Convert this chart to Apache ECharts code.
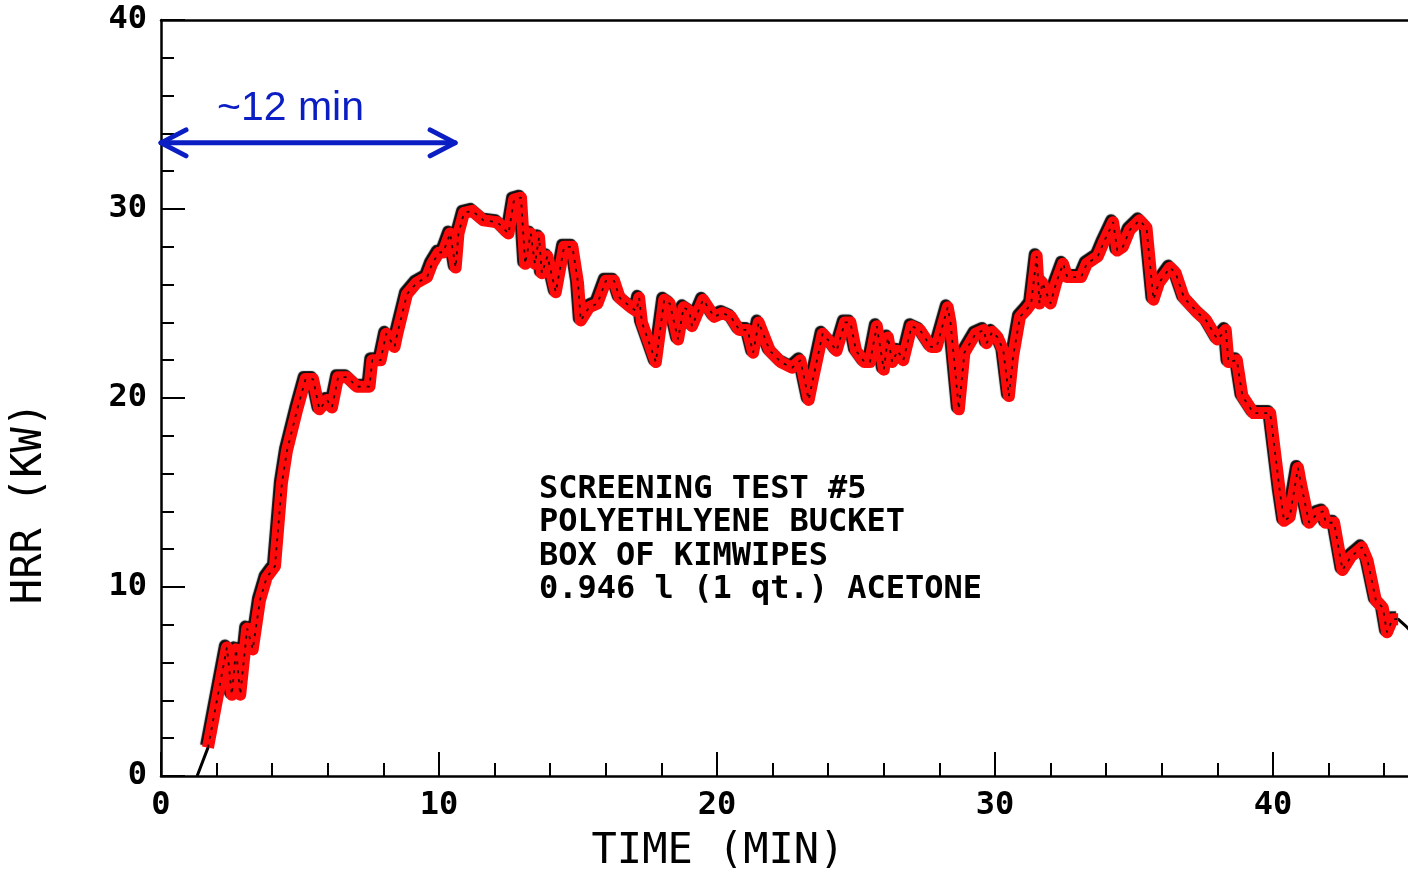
<!DOCTYPE html>
<html>
<head>
<meta charset="utf-8">
<title>HRR vs time</title>
<script src="https://cdn.jsdelivr.net/npm/echarts@6/dist/echarts.min.js"></script>
<style>
  html, body { margin: 0; padding: 0; background: #fff; }
  #chart { width: 1408px; height: 869px; }
</style>
</head>
<body>
<div id="chart"></div>
<script>
// Heat release rate trace, screening test #5
const minutes = [1.3, 1.69, 2.37, 2.55, 2.7, 2.85, 3.1, 3.3, 3.56, 3.8, 4.1, 4.35, 4.53, 4.9, 5.2, 5.47, 5.7, 5.97, 6.15, 6.37,
  6.7, 7.05, 7.5, 7.6, 7.9, 8.1, 8.4, 8.5, 8.85, 9.2, 9.57, 9.75, 10.0, 10.15, 10.4, 10.6, 10.7, 10.9, 11.2, 11.6,
  12.1, 12.5, 12.7, 12.95, 13.1, 13.3, 13.45, 13.6, 13.7, 13.9, 14.2, 14.5, 14.8, 15.0, 15.1, 15.4, 15.7, 16.0, 16.3, 16.5,
  16.9, 17.1, 17.2, 17.3, 17.8, 18.1, 18.3, 18.6, 18.8, 19.0, 19.1, 19.5, 19.9, 20.2, 20.5, 20.8, 21.1, 21.3, 21.5, 21.9,
  22.3, 22.7, 23.0, 23.3, 23.45, 23.8, 24.1, 24.3, 24.6, 24.8, 25.0, 25.3, 25.5, 25.75, 26.0, 26.15, 26.3, 26.5, 26.7, 27.0,
  27.3, 27.7, 27.9, 28.3, 28.4, 28.7, 28.9, 29.3, 29.6, 29.7, 29.9, 30.1, 30.3, 30.5, 30.65, 30.9, 31.15, 31.3, 31.5, 31.6,
  31.7, 32.0, 32.2, 32.45, 32.6, 33.1, 33.3, 33.7, 33.9, 34.25, 34.4, 34.6, 34.85, 35.2, 35.45, 35.7, 35.9, 36.3, 36.5, 36.8,
  37.3, 37.6, 38.0, 38.3, 38.4, 38.7, 38.9, 39.3, 39.9, 40.25, 40.4, 40.6, 40.9, 41.0, 41.3, 41.6, 41.8, 41.9, 42.2, 42.5,
  42.8, 43.2, 43.4, 43.7, 43.95, 44.1, 44.3, 44.5, 44.8, 45.2];
const hrrKW = [0, 1.5, 6.8, 4.3, 6.7, 4.3, 7.8, 6.7, 9.3, 10.5, 11.1, 15.5, 17.2, 19.4, 21.0, 21.0, 19.4, 19.9, 19.5, 21.1,
  21.1, 20.6, 20.6, 22.0, 22.0, 23.4, 22.7, 23.4, 25.5, 26.1, 26.4, 27.1, 27.7, 27.7, 28.7, 26.9, 28.7, 29.8, 29.9, 29.4,
  29.3, 28.7, 30.5, 30.6, 27.1, 28.7, 27.1, 28.5, 26.6, 27.5, 25.6, 28.0, 28.0, 26.1, 24.1, 24.8, 25.0, 26.2, 26.2, 25.3,
  24.8, 24.6, 25.3, 24.0, 21.9, 25.2, 25.0, 23.1, 24.8, 24.6, 23.8, 25.2, 24.3, 24.5, 24.3, 23.6, 23.6, 22.4, 24.0, 22.5,
  21.9, 21.6, 22.0, 19.9, 21.0, 23.4, 22.9, 22.5, 24.0, 24.0, 22.5, 21.9, 21.9, 23.8, 21.5, 23.2, 21.9, 22.5, 22.0, 23.8,
  23.6, 22.7, 22.7, 24.8, 24.0, 19.4, 22.4, 23.4, 23.6, 22.9, 23.5, 23.2, 22.5, 20.1, 22.2, 24.3, 24.7, 25.0, 27.5, 25.0,
  26.1, 25.0, 26.1, 27.1, 26.4, 26.4, 27.1, 27.5, 28.2, 29.3, 27.8, 28.0, 28.9, 29.4, 29.0, 25.2, 26.1, 26.9, 26.6, 25.3,
  24.5, 24.1, 23.1, 23.6, 21.9, 22.0, 20.1, 19.2, 19.2, 15.0, 13.5, 13.7, 16.3, 15.5, 13.4, 13.9, 14.0, 13.4, 13.4, 10.9,
  11.6, 12.1, 11.4, 9.3, 8.9, 7.6, 8.3, 8.3, 7.9, 7.3];

// Axis ranges and tick labels
const timeRange = [0, 50];
const hrrRange = [0, 40];
const majorStep = 10;

// Annotation content
const spanArrow = [0, 10.58, 33.5];   // start min, end min, level kW
const spanLabel = '~12 min';
const testNotes = ['SCREENING TEST #5', 'POLYETHLYENE BUCKET', 'BOX OF KIMWIPES', '0.946 l (1 qt.) ACETONE'];
const xTitle = 'TIME (MIN)';
const yTitle = 'HRR (KW)';

const trace = minutes.map((t, i) => [t, hrrKW[i]]);
const band = trace.slice(1, -2);

const mono = '"DejaVu Sans Mono", "Liberation Mono", monospace';
const blue = '#0b1ec4';
const axisLineStyle = { color: '#000', width: 2.5 };

const chart = echarts.init(document.getElementById('chart'), null, { renderer: 'canvas' });

const option = {
  backgroundColor: '#fff',
  animation: false,
  grid: { left: 161, top: 20, height: 756, width: 1390, containLabel: false, outerBoundsMode: 'none' },
  xAxis: [
    {
      type: 'value', min: timeRange[0], max: timeRange[1], interval: majorStep, position: 'bottom',
      axisLine: { show: true, onZero: false, lineStyle: axisLineStyle },
      axisTick: { show: true, inside: true, length: 24, lineStyle: { color: '#000', width: 2 } },
      minorTick: { show: true, splitNumber: 5, length: 13, lineStyle: { color: '#000', width: 2 } },
      axisLabel: { fontFamily: mono, fontSize: 32, fontWeight: 'bold', color: '#000', margin: 14 },
      splitLine: { show: false }
    },
    {
      type: 'value', min: timeRange[0], max: timeRange[1], interval: majorStep, position: 'top',
      axisLine: { show: true, onZero: false, lineStyle: axisLineStyle },
      axisTick: { show: false }, axisLabel: { show: false }, splitLine: { show: false }
    }
  ],
  yAxis: {
    type: 'value', min: hrrRange[0], max: hrrRange[1], interval: majorStep,
    axisLine: { show: true, onZero: false, lineStyle: axisLineStyle },
    axisTick: { show: true, inside: true, length: 24, lineStyle: { color: '#000', width: 2 } },
    minorTick: { show: true, splitNumber: 5, length: 13, lineStyle: { color: '#000', width: 2 } },
    axisLabel: { fontFamily: mono, fontSize: 32, fontWeight: 'bold', color: '#000', margin: 14 },
    splitLine: { show: false }
  },
  series: [
    {
      // original plotted trace
      type: 'line', data: trace, symbol: 'none', z: 2,
      lineStyle: { color: '#000', width: 3 }
    },
    {
      // red highlight over the trace
      type: 'line', data: band, symbol: 'none', z: 3,
      lineStyle: {
        color: '#ff0a0a', width: 12, join: 'round',
        shadowColor: 'rgba(0,0,0,0.95)', shadowBlur: 1, shadowOffsetX: -2, shadowOffsetY: -2
      }
    },
    {
      // trace showing through the highlight
      type: 'line', data: band, symbol: 'none', z: 4,
      lineStyle: { color: '#000', width: 1.8, type: [3, 6], opacity: 0.85 }
    },
    {
      // double-headed span arrow
      type: 'custom', z: 6, clip: false,
      data: [spanArrow],
      renderItem: function (params, api) {
        const a = api.coord([api.value(0), api.value(2)]);
        const b = api.coord([api.value(1), api.value(2)]);
        const hx = 25, hy = 13;
        const st = { stroke: blue, lineWidth: 5, lineCap: 'round', lineJoin: 'round', fill: null };
        return {
          type: 'group',
          children: [
            { type: 'line', shape: { x1: a[0], y1: a[1], x2: b[0], y2: b[1] }, style: st },
            { type: 'polyline', shape: { points: [[a[0] + hx, a[1] - hy], [a[0], a[1]], [a[0] + hx, a[1] + hy]] }, style: st },
            { type: 'polyline', shape: { points: [[b[0] - hx, b[1] - hy], [b[0], b[1]], [b[0] - hx, b[1] + hy]] }, style: st }
          ]
        };
      }
    }
  ],
  graphic: [
    {
      type: 'text', x: 217, y: 88, z: 10,
      style: { text: spanLabel, font: '41px "Liberation Sans", Arial, sans-serif', fill: blue }
    },
    {
      type: 'text', x: 539, y: 473, z: 10,
      style: { text: testNotes.join('\n'), font: 'bold 32px ' + mono, fill: '#000', lineHeight: 33.4 }
    },
    {
      type: 'text', x: 718, y: 852, z: 10,
      style: { text: xTitle, font: '42px ' + mono, fill: '#000', align: 'center', verticalAlign: 'middle' }
    },
    {
      type: 'text', x: 30, y: 503, rotation: Math.PI / 2, z: 10,
      style: { text: yTitle, font: '42px ' + mono, fill: '#000', align: 'center', verticalAlign: 'middle' }
    }
  ]
};

chart.setOption(option);
</script>
</body>
</html>
